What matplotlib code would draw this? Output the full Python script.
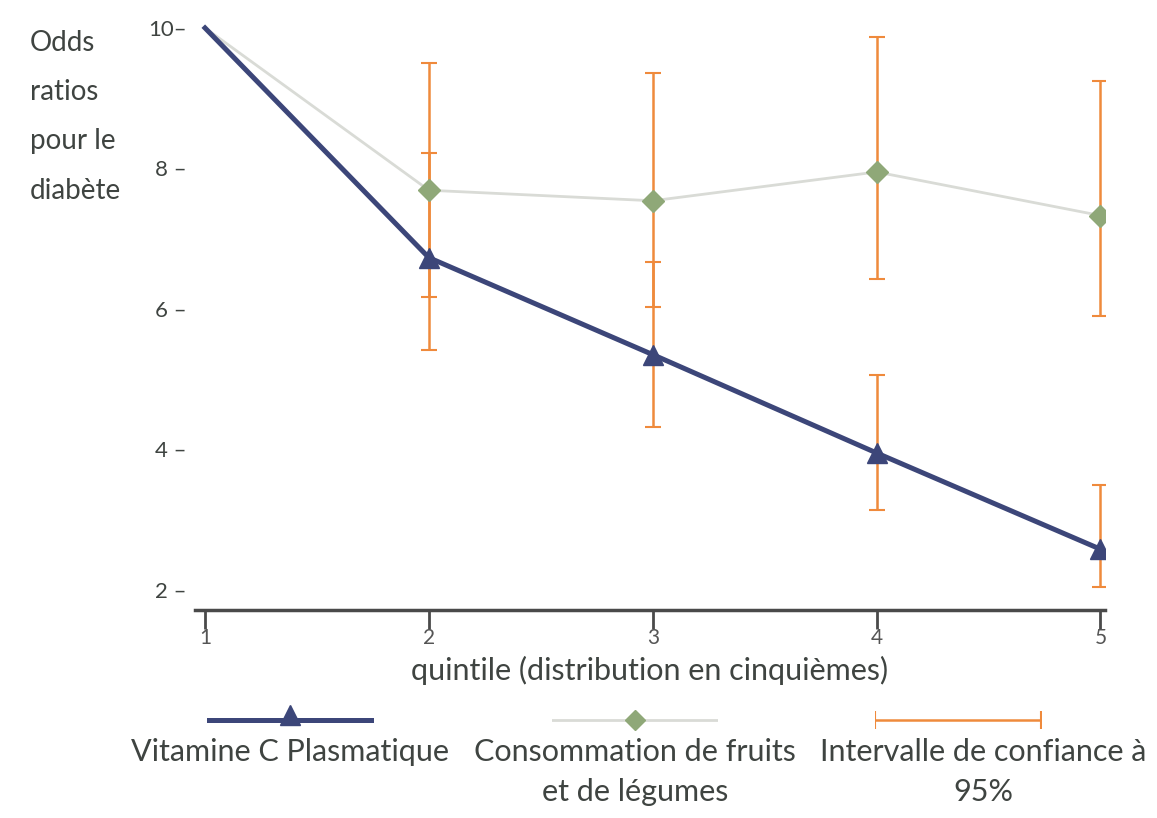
import numpy as np
import matplotlib
matplotlib.use("Agg")
import matplotlib.pyplot as plt

# Données
quintiles = [1, 2, 3, 4, 5]
vitamine_c = [10.0, 6.73, 5.35, 3.95, 2.58]
fruits_legumes = [10.0, 7.69, 7.54, 7.95, 7.33]

# Intervalles de confiance à 95 % (bas, haut)
ic_x = [2, 3, 4, 5]
ic_fruits_bas = [5.42, 4.32, 6.43, 5.90]
ic_fruits_haut = [9.50, 9.36, 9.87, 9.25]
ic_vit_bas = [6.17, 6.03, 3.14, 2.04]
ic_vit_haut = [8.22, 6.67, 5.06, 3.49]

y_ticks = [2, 4, 6, 8, 10]
y_tick_labels = ["2 –", "4 –", "6 –", "8 –", "10–"]

labels = ["Vitamine C Plasmatique",
          "Consommation de fruits\net de légumes",
          "Intervalle de confiance à\n95%"]

NAVY = "#3c4679"
GREEN = "#8fa878"
LIGHT = "#d9dbd6"
ORANGE = "#ef8a3c"
TEXT = "#3f4441"

plt.rcParams["font.family"] = ["Lato", "DejaVu Sans"]

fig = plt.figure(figsize=(11.57, 8.18), dpi=100)
ax = fig.add_axes([0.1685, 0.2543, 0.7865, 0.7287])

# Intervalles de confiance
for lo, hi in [(ic_fruits_bas, ic_fruits_haut), (ic_vit_bas, ic_vit_haut)]:
    lo = np.array(lo)
    hi = np.array(hi)
    ax.errorbar(ic_x, (lo + hi) / 2, yerr=(hi - lo) / 2, fmt="none",
                ecolor=ORANGE, elinewidth=1.8, capsize=6, capthick=1.5,
                zorder=1)

# Courbes
ax.plot(quintiles, fruits_legumes, color=LIGHT, lw=2, zorder=2)
ax.plot(quintiles[1:], fruits_legumes[1:], ls="none", marker="D",
        ms=11, color=GREEN, zorder=3)
ax.plot(quintiles, vitamine_c, color=NAVY, lw=3.6, zorder=4)
ax.plot(quintiles[1:], vitamine_c[1:], ls="none", marker="^",
        ms=14, color=NAVY, zorder=5)

ax.set_xlim(0.955, 5.02)
ax.set_ylim(1.715, 10.2)

for s in ["top", "right", "left"]:
    ax.spines[s].set_visible(False)
ax.spines["bottom"].set_color("#4a4a4a")
ax.spines["bottom"].set_linewidth(2.5)

ax.set_xticks(quintiles)
ax.set_xticklabels([str(q) for q in quintiles])
ax.tick_params(axis="x", direction="out", length=14, width=2,
               color="#4a4a4a", labelsize=15, labelcolor="#555555", pad=-1)
ax.set_yticks(y_ticks)
ax.set_yticklabels(y_tick_labels)
ax.tick_params(axis="y", length=0, labelsize=16, labelcolor=TEXT, pad=6)

ax.set_xlabel("quintile (distribution en cinquièmes)", fontsize=22,
              color=TEXT, labelpad=6)

fig.text(0.026, 0.963, "Odds\nratios\npour le\ndiabète", fontsize=20,
         color=TEXT, ha="left", va="top", linespacing=2.1)

# Légende sous le graphique
leg_centres = [0.251, 0.549, 0.828]
text_centres = [0.251, 0.549, 0.850]
for i, (cx, tx, lab) in enumerate(zip(leg_centres, text_centres, labels)):
    lax = fig.add_axes([cx - 0.072, 0.095, 0.144, 0.05])
    lax.set_xlim(0, 1)
    lax.set_ylim(0, 1)
    lax.axis("off")
    if i == 0:
        lax.plot([0, 1], [0.5, 0.5], color=NAVY, lw=3.6)
        lax.plot([0.5], [0.62], marker="^", ms=14, color=NAVY)
    elif i == 1:
        lax.plot([0, 1], [0.5, 0.5], color=LIGHT, lw=2)
        lax.plot([0.5], [0.5], marker="D", ms=10, color=GREEN)
    else:
        lax.plot([0, 1], [0.5, 0.5], color=ORANGE, lw=1.8)
        lax.plot([0, 1], [0.5, 0.5], ls="none", marker="|", ms=13,
                 mew=1.5, color=ORANGE)
    fig.text(tx, 0.098, lab, ha="center", va="top", fontsize=22,
             color=TEXT, linespacing=1.55)

fig.savefig("out.png", dpi=100)
